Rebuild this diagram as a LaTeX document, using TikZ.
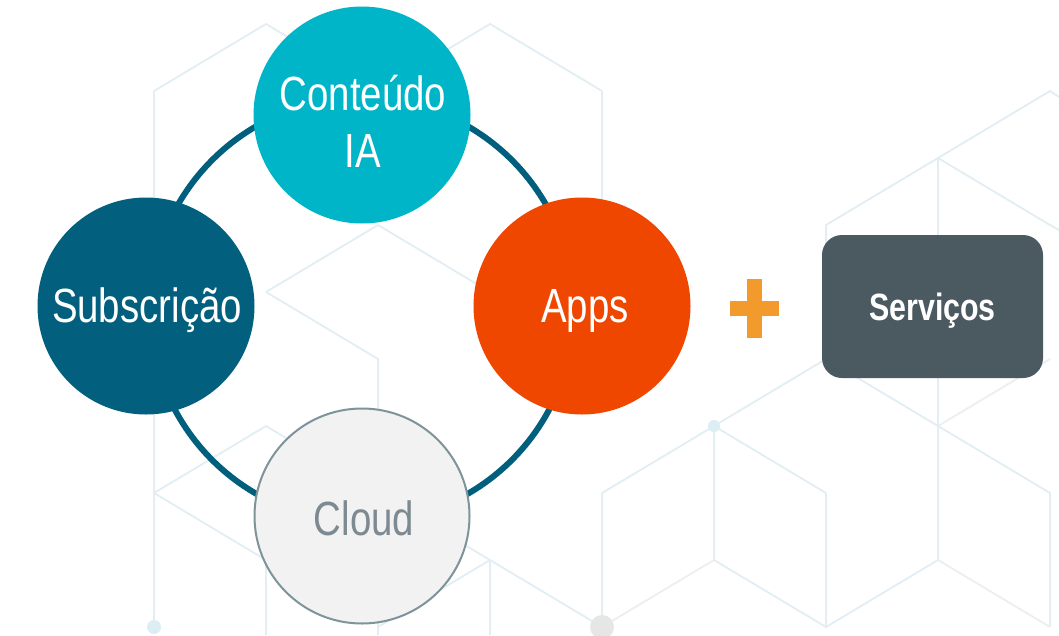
\documentclass[tikz,border=0pt]{standalone}
\usepackage{fontspec}
\setmainfont{Liberation Sans}
\newfontfamily\nf[FakeStretch=0.8]{Liberation Sans}
\definecolor{hexblue}{HTML}{E2EEF3}
\definecolor{hexgrey}{HTML}{EEEEEE}
\definecolor{hexdot}{HTML}{DCEEF4}
\definecolor{greydot}{HTML}{E6E6E6}
\definecolor{ringcol}{HTML}{015F7E}
\definecolor{tealc}{HTML}{00B5C8}
\definecolor{navyc}{HTML}{025F7E}
\definecolor{orangec}{HTML}{EF4600}
\definecolor{cloudfill}{HTML}{F2F2F2}
\definecolor{cloudline}{HTML}{7E939A}
\definecolor{cloudtext}{HTML}{7D8A91}
\definecolor{slatec}{HTML}{4B5A61}
\definecolor{plusc}{HTML}{F39A2C}
\begin{document}
\begin{tikzpicture}[x=1pt,y=-1pt,
  bgline/.style={draw=hexblue,line width=1.8pt},
  bggrey/.style={draw=hexgrey,line width=1.8pt},
  bubble/.style={circle,minimum size=217pt,inner sep=0pt,outer sep=0pt},
  lbl/.style={anchor=base,text=white,inner sep=0pt,font=\nf\fontsize{48}{57}\selectfont},
  servlbl/.style={anchor=base,text=white,inner sep=0pt,font=\nf\bfseries\fontsize{38}{44}\selectfont},
]
\useasboundingbox (0,0) rectangle (1059,635);
\fill[white] (0,0) rectangle (1059,635);

% background cube lattice
\draw[bgline] (154,91) -- (266,24) -- (378,91);
\draw[bgline] (378,91) -- (490,24) -- (602,91);
\draw[bgline] (154,91) -- (154,627);
\draw[bgline] (602,91) -- (602,225);
\draw[bgline] (266,292) -- (378,225) -- (490,292);
\draw[bgline] (266,292) -- (378,359) -- (378,635);
\draw[bgline] (154,493) -- (266,426) -- (378,493) -- (490,560) -- (602,627);
\draw[bgline] (154,493) -- (266,560) -- (266,635);
\draw[bgline] (490,560) -- (378,627);
\draw[bgline] (490,560) -- (490,635);
\draw[bgline] (602,493) -- (714,426) -- (826,493);
\draw[bgline] (714,426) -- (826,359) -- (938,426) -- (1050,493) -- (1050,627);
\draw[bgline] (602,493) -- (602,627);
\draw[bgline] (714,426) -- (714,560) -- (826,627);
\draw[bggrey] (714,560) -- (602,627);
\draw[bgline] (826,493) -- (826,627) -- (938,560);
\draw[bggrey] (938,560) -- (1050,627);
\draw[bgline] (938,158) -- (938,560);
\draw[bggrey] (938,426) -- (1050,359);
\draw[bgline] (1059,97) -- (1050,91) -- (938,158) -- (826,225) -- (826,359);
\draw[bgline] (938,158) -- (1050,225) -- (1059,230);
\fill[hexdot] (714,426) circle[radius=6pt];
\fill[hexdot] (154,627) circle[radius=7pt];
\fill[greydot] (602,627) circle[radius=12pt];

% ring
\coordinate (ringc) at (362,310);
\draw[ringcol,line width=6pt] (ringc) circle[radius=212pt];

% bubbles
\node[bubble,fill=tealc] (cont) at (362,115) {};
\node[bubble,fill=navyc] (subs) at (146,306) {};
\node[bubble,fill=orangec] (apps) at (582,306) {};
\node[bubble,fill=cloudfill,draw=cloudline,line width=2pt,minimum size=215pt] (cloud) at (362,516) {};

\node[lbl] (tcont) at (363,110) {Conteúdo};
\node[lbl] (tia) at (363,167) {IA};
\node[lbl] (tsubs) at (147,322) {Subscrição};
\node[lbl] (tapps) at (585,322) {Apps};
\node[lbl,text=cloudtext] (tcloud) at (364,535) {Cloud};

% plus
\fill[plusc] (730,301) rectangle (779,316);
\fill[plusc] (747,279) rectangle (762,338);

% services box
\node[fill=slatec,rounded corners=20pt,minimum width=221pt,minimum height=143pt,inner sep=0pt] (serv) at (932.5,306.5) {};
\node[servlbl] (tserv) at (932.5,320) {Serviços};
\end{tikzpicture}
\end{document}
